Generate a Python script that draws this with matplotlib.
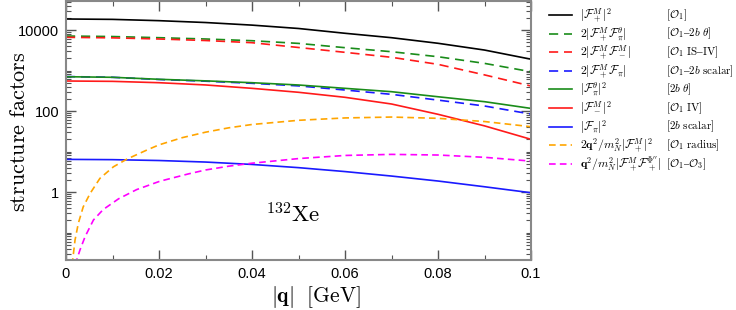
import matplotlib
matplotlib.use("Agg")
import matplotlib.pyplot as plt
from matplotlib.lines import Line2D
from matplotlib.ticker import FixedLocator, NullFormatter, FixedFormatter

plt.rcParams['mathtext.fontset'] = 'cm'
plt.rcParams['font.family'] = ['Liberation Sans', 'DejaVu Sans']

# ---- data ----
q = [0.0, 0.01, 0.02, 0.03, 0.04, 0.05, 0.06, 0.07, 0.08, 0.09, 0.1]
F_plus_sq     = [18700, 18300, 17000, 15300, 13200, 10900, 8300, 6460, 4700, 3200, 1900]
F_plus_theta  = [7100, 6900, 6460, 6000, 5440, 4670, 3660, 2910, 2190, 1500, 933]
F_plus_minus  = [6600, 6400, 6000, 5500, 4860, 3700, 2810, 2120, 1420, 780, 414]
F_plus_pi     = [710, 680, 600, 545, 483, 417, 330, 258, 186, 133, 84]
F_theta_sq    = [703, 680, 607, 555, 500, 439, 363, 300, 225, 170, 116]
F_minus_sq    = [551, 540, 500, 440, 363, 290, 218, 149, 83, 43, 20]
F_pi_sq       = [6.4, 6.3, 6.0, 5.5, 4.8, 4.0, 3.2, 2.48, 1.87, 1.35, 0.96]

q_rad = [0.0012, 0.00144, 0.00194, 0.00265, 0.0037, 0.0052, 0.0073, 0.0102, 0.0131,
         0.0174, 0.02, 0.025, 0.03, 0.035, 0.04, 0.05, 0.06, 0.07, 0.08, 0.09, 0.1]
radius = [0.016, 0.021, 0.065, 0.169, 0.43, 0.93, 2.18, 4.2, 6.5,
          10.9, 14.6, 22, 30, 38.5, 46.5, 59, 67.5, 71, 66, 55, 41]

q_o3 = [0.0021, 0.0023, 0.003, 0.0041, 0.0059, 0.008, 0.0113, 0.0152, 0.0202,
        0.0263, 0.03, 0.035, 0.04, 0.05, 0.06, 0.07, 0.08, 0.09, 0.1]
o1_o3 = [0.016, 0.021, 0.037, 0.079, 0.204, 0.37, 0.68, 1.15, 1.85,
         2.8, 3.5, 4.35, 5.15, 6.7, 8.0, 8.5, 8.2, 7.2, 5.8]

labels1 = [r'$|\mathcal{F}_+^M|^2$',
           r'$2|\mathcal{F}_+^M\mathcal{F}_\pi^\theta|$',
           r'$2|\mathcal{F}_+^M\mathcal{F}_-^M|$',
           r'$2|\mathcal{F}_+^M\mathcal{F}_\pi|$',
           r'$|\mathcal{F}_\pi^\theta|^2$',
           r'$|\mathcal{F}_-^M|^2$',
           r'$|\mathcal{F}_\pi|^2$',
           r'$2\mathbf{q}^2/m_N^2|\mathcal{F}_+^M|^2$',
           r'$\mathbf{q}^2/m_N^2|\mathcal{F}_+^M\mathcal{F}_+^{\Phi^{\prime\prime}}|$']
labels2 = [r'$[\mathcal{O}_1]$',
           r'$[\mathcal{O}_1\text{–}2b\ \theta]$',
           r'$[\mathcal{O}_1\ \mathrm{IS}\text{–}\mathrm{IV}]$',
           r'$[\mathcal{O}_1\text{–}2b\ \mathrm{scalar}]$',
           r'$[2b\ \theta]$',
           r'$[\mathcal{O}_1\ \mathrm{IV}]$',
           r'$[2b\ \mathrm{scalar}]$',
           r'$[\mathcal{O}_1\ \mathrm{radius}]$',
           r'$[\mathcal{O}_1\text{–}\mathcal{O}_3]$']

xticks = [0, 0.02, 0.04, 0.06, 0.08, 0.1]
xticklabels = ['0', '0.02', '0.04', '0.06', '0.08', '0.1']
yticks = [1, 100, 10000]
yticklabels = ['1', '100', '10000']

GREEN = '#1a8c1a'
RED = '#ff1a1a'
BLUE = '#1a1aff'
ORANGE = '#ffa500'
MAGENTA = '#ff00ff'
long_dash = (0, (5.5, 3.5))
short_dash = (0, (4, 2.5))

series = [
    (q, F_plus_sq, 'black', '-'),
    (q, F_plus_theta, GREEN, long_dash),
    (q, F_plus_minus, RED, long_dash),
    (q, F_plus_pi, BLUE, long_dash),
    (q, F_theta_sq, GREEN, '-'),
    (q, F_minus_sq, RED, '-'),
    (q, F_pi_sq, BLUE, '-'),
    (q_rad, radius, ORANGE, short_dash),
    (q_o3, o1_o3, MAGENTA, short_dash),
]

W, H = 736, 310
fig = plt.figure(figsize=(W / 100, H / 100), dpi=100)
ax = fig.add_axes([66 / W, 50 / H, (531 - 66) / W, 259 / H])

for xs, ys, c, ls in series:
    ax.plot(xs, ys, color=c, linestyle=ls, lw=1.2)

ax.set_yscale('log')
ax.set_xlim(0, 0.1)
ax.set_ylim(0.021, 5.2e4)

ax.xaxis.set_major_locator(FixedLocator(xticks))
ax.xaxis.set_major_formatter(FixedFormatter(xticklabels))
ax.xaxis.set_minor_locator(FixedLocator([0.01, 0.03, 0.05, 0.07, 0.09]))
ax.yaxis.set_major_locator(FixedLocator(yticks))
ax.yaxis.set_major_formatter(FixedFormatter(yticklabels))
minors = []
for e in range(-2, 5):
    for m in range(1, 10):
        v = m * 10.0 ** e
        if v not in yticks:
            minors.append(v)
ax.yaxis.set_minor_locator(FixedLocator(minors))
ax.yaxis.set_minor_formatter(NullFormatter())

ax.tick_params(which='both', direction='in', top=True, right=True,
               color='#555555', labelsize=10.5, pad=5)
ax.tick_params(which='major', length=7, width=1)
ax.tick_params(which='minor', length=3.5, width=0.8)
for s in ax.spines.values():
    s.set_color('#888888')
    s.set_linewidth(1.5)

ax.set_ylabel(r'$\mathrm{structure\ factors}$', fontsize=16, va='center')
ax.yaxis.set_label_coords(-0.099, 0.494)
ax.set_xlabel(r'$|\mathbf{q}|\ \ [\mathrm{GeV}]$', fontsize=15.5, va='center')
ax.xaxis.set_label_coords(0.538, -0.143)
ax.text(0.0428, 0.27, r'$^{132}\mathrm{Xe}$', fontsize=16.5, va='center', ha='left')

# legend (manual, two text columns)
for i, (xs, ys, c, ls) in enumerate(series):
    yp = 1 - (15 + 18.6 * i) / H
    fig.add_artist(Line2D([549 / W, 572 / W], [yp, yp], color=c, linestyle=ls,
                          lw=1.2, transform=fig.transFigure))
    fig.text(580 / W, yp, labels1[i], fontsize=8.5, va='center', ha='left')
    fig.text(666 / W, yp, labels2[i], fontsize=8.0, va='center', ha='left')

fig.savefig('out.png', dpi=100)
